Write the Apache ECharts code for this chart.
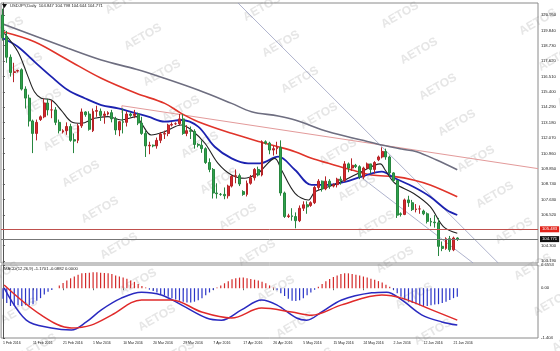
<!DOCTYPE html>
<html><head><meta charset="utf-8">
<script src="https://cdn.jsdelivr.net/npm/echarts@6/dist/echarts.min.js"></script>
<style>html,body{margin:0;padding:0;background:#fff}#c{width:560px;height:351px}</style>
</head><body><div id="c"></div>
<script>
// x-axis tick labels (bar index -> label)
const tickIdx = [0,8,16,24,32,40,48,56,64,72,80,88,96,104,112,120];
const tickLabels = ['1 Feb 2016','11 Feb 2016','21 Feb 2016','1 Mar 2016','10 Mar 2016','20 Mar 2016','29 Mar 2016','7 Apr 2016','17 Apr 2016','26 Apr 2016','5 May 2016','15 May 2016','24 May 2016','2 Jun 2016','12 Jun 2016','21 Jun 2016'];
const priceTicks = [120.95,119.84,118.73,117.62,116.51,115.40,114.29,113.18,112.07,110.96,109.85,108.74,107.63,106.52,104.30,103.19];
const macdTicks = [0.6553, 0, -1.404];
// daily candles [open, close, low, high]
const candles = [
[120.95,119.3,119.1,121.4],[119.4,117.9,117.5,119.8],[117.9,116.8,116.5,118.1],[116.8,116.85,116.1,117.5],[116.9,116.95,116.8,117.0],
[117.0,115.6,115.5,117.1],[115.6,114.95,114.2,115.8],[114.95,113.3,112.9,115.2],[113.3,112.4,110.98,113.4],[112.4,113.2,111.9,113.4],
[113.4,113.6,113.3,113.7],[113.6,114.6,113.5,114.9],[114.6,114.1,113.7,114.9],[114.1,114.1,113.5,114.8],[114.1,113.2,113.0,114.3],
[113.2,112.6,112.4,113.4],[112.5,112.6,112.4,112.7],[112.6,112.9,112.3,113.2],[112.9,111.9,111.8,113.1],[111.95,111.85,110.98,112.4],
[111.9,112.95,111.7,113.1],[112.95,113.95,112.8,114.2],[113.95,113.75,113.6,114.0],[113.8,112.7,112.6,114.0],[112.6,114.0,112.5,114.2],
[114.0,114.05,113.6,114.4],[114.0,113.7,113.3,114.2],[113.7,113.8,113.1,114.0],[113.8,113.9,113.7,114.0],[113.9,113.45,113.2,114.1],
[113.45,112.65,112.3,113.6],[112.65,113.25,112.2,113.3],[113.25,113.2,112.4,114.2],[113.2,113.8,112.9,114.0],[113.8,113.7,113.6,113.9],
[113.7,113.8,113.5,114.1],[113.8,113.15,113.0,113.9],[113.15,112.4,112.3,113.6],[112.4,111.5,110.7,112.6],[111.5,111.55,110.9,111.8],
[111.55,111.5,111.4,111.6],[111.5,111.9,111.3,112.1],[111.9,112.35,111.7,112.5],[112.35,112.4,112.0,112.6],[112.4,113.0,112.2,113.1],
[113.0,113.05,112.9,113.2],[113.1,113.1,113.0,113.2],[113.1,113.45,113.0,113.8],[113.45,112.4,112.3,113.8],[112.4,112.6,112.2,113.0],
[112.6,112.55,112.0,112.9],[112.55,111.6,111.3,112.7],[111.6,111.55,111.4,111.7],[111.55,111.3,111.0,111.9],[111.3,110.3,110.2,111.4],
[110.3,109.8,109.6,110.6],[109.8,108.1,107.7,109.9],[108.1,108.05,107.7,108.8],[108.0,108.0,107.9,108.1],[108.0,107.9,107.65,108.5],
[107.9,108.6,107.7,108.7],[108.6,109.3,108.5,109.4],[109.3,109.35,108.8,109.8],[109.35,108.75,108.6,109.5],[108.2,108.0,107.9,108.3],
[108.0,108.8,107.85,109.0],[108.8,109.2,108.7,109.4],[109.2,109.8,109.0,109.9],[109.8,109.4,109.3,110.0],[109.4,111.8,109.3,111.9],
[111.8,111.7,111.6,111.9],[111.7,111.2,110.9,111.8],[111.2,111.3,110.8,111.5],[111.3,111.4,110.9,111.8],[111.4,108.1,107.9,111.9],
[108.1,106.4,106.3,108.2],[106.4,106.45,106.3,106.6],[106.45,106.4,106.1,107.0],[106.4,106.1,105.55,106.7],[106.1,107.0,106.0,107.2],
[107.0,107.25,106.8,107.5],[107.25,107.1,106.6,107.5],[107.2,107.4,107.1,107.5],[107.4,108.5,107.3,108.6],[108.5,108.95,108.3,109.1],
[108.95,108.4,108.2,109.0],[108.4,108.95,108.3,109.3],[108.95,108.6,108.4,109.1],[108.6,108.7,108.5,108.8],[108.7,109.1,108.5,109.2],
[109.1,109.0,108.7,109.3],[109.0,110.2,108.9,110.4],[110.2,109.9,109.6,110.3],[109.9,110.1,109.7,110.6],[110.1,110.0,109.9,110.2],
[110.0,109.25,109.1,110.1],[109.25,109.9,109.1,110.0],[109.9,110.2,109.8,110.3],[110.2,109.8,109.5,110.2],[109.8,110.3,109.5,110.4],
[110.5,110.7,110.4,110.8],[110.7,111.1,110.6,111.4],[111.1,110.7,110.5,111.3],[110.7,109.55,109.3,110.8],[109.55,109.0,108.9,109.6],
[109.0,106.5,106.3,109.0],[106.6,106.55,106.4,106.7],[106.55,107.6,106.5,107.7],[107.6,107.4,107.1,107.9],[107.4,106.9,106.8,107.6],
[106.9,106.95,106.7,107.3],[106.95,106.95,106.6,107.2],[106.8,106.6,106.5,106.9],[106.6,106.05,105.9,106.7],[106.05,106.0,105.7,106.3],
[106.0,105.95,105.6,106.5],[105.95,104.25,103.55,106.3],[104.25,104.1,103.9,104.6],[104.1,104.8,104.0,104.9],[104.8,104.0,103.85,105.0],
[104.0,104.85,103.9,104.95],[104.85,104.77,104.64,104.9]
];
// moving averages: [bar index, price]
const maBlack = [[0.4,119.63],[4,118.30],[6.7,116.50],[8.4,115.41],[10.2,114.94],[12.9,114.81],[15.5,114.09],[18.2,113.25],[20.9,113.13],[24.4,113.49],[28,113.61],[31.5,113.37],[35.5,113.61],[36.9,113.13],[39.5,112.29],[43.1,112.53],[47.5,113.01],[50.2,112.65],[53.8,111.69],[57.3,110.24],[60.9,109.40],[64.4,109.16],[68,109.52],[68.9,109.76],[72.4,110.60],[74.2,109.76],[77.8,108.08],[81.3,107.59],[83.1,108.19],[86.7,108.55],[91.1,109.04],[95.5,109.64],[100.5,110.2],[101.8,109.76],[104.4,108.80],[109.3,108.08],[113.8,107.11],[117.3,105.67],[121,105.19]];
const maBlue = [[0,119.27],[4,118.66],[8.4,117.58],[12.9,116.50],[17.3,115.53],[21.8,114.94],[26.2,114.45],[30.7,114.21],[35.5,113.85],[38.7,113.61],[43.1,113.25],[47.5,113.37],[52,112.89],[56.4,111.44],[60.9,110.60],[65.3,110.24],[68.4,110.24],[73.3,110.72],[77.8,109.76],[82.2,108.68],[86.7,108.68],[91.1,108.91],[95.5,109.28],[100.9,109.64],[104.4,109.16],[109.3,108.55],[113.8,107.83],[118.2,106.87],[121,106.51]];
const maRed = [[0,119.74],[8.4,119.02],[17.3,117.70],[26.2,116.38],[35.5,115.30],[43.1,114.57],[47.5,113.85],[52,113.25],[60.9,112.41],[68.4,111.80],[73.3,111.44],[77.8,111.08],[82.2,110.60],[86.7,110.24],[92.9,109.76],[98.2,109.40],[104.4,109.28],[109.3,109.04],[113.8,108.68],[121,107.83]];
const maGray = [[0,120.3],[17.3,118.55],[26.2,117.70],[35.5,117.03],[43,116.38],[52,115.53],[60.9,114.57],[66.2,113.97],[73.3,113.66],[77.8,113.37],[86.7,112.52],[95.5,111.92],[100.9,111.56],[106.2,111.27],[110.2,111.08],[115.5,110.48],[121,109.78]];
// drawn objects: trend line, channel lines, horizontal levels
const trendPink = [[31.7,114.40],[142.5,109.86]];
const trendPinkTick = [[31.7,114.40],[31.7,113.87]];
const channelUpper = [[62.6,121.82],[131.9,103.05]];
const channelLower = [[94.6,109.40],[125.2,103.05]];
const levelRed = 105.483;
const levelBid = 104.771;
// MACD panel
const macdHist = [-0.30,-0.42,-0.50,-0.50,-0.48,-0.50,-0.48,-0.48,-0.45,-0.35,-0.28,-0.18,-0.10,-0.05,0.0,
0.08,0.15,0.22,0.28,0.33,0.38,0.42,0.43,0.44,0.45,0.45,0.44,0.43,0.42,0.40,0.36,0.33,0.30,0.27,0.22,0.18,0.12,0.06,0.02,
-0.04,-0.08,-0.12,-0.16,-0.20,-0.24,-0.28,-0.32,-0.35,-0.38,-0.40,-0.40,-0.38,-0.34,-0.28,-0.20,
-0.12,-0.05,0.02,0.08,0.14,0.20,0.25,0.28,0.30,0.30,0.28,0.26,0.24,0.22,0.18,0.14,
0.08,0.02,-0.06,-0.14,-0.22,-0.30,-0.35,-0.36,-0.34,-0.28,-0.20,-0.12,
-0.04,0.04,0.12,0.20,0.26,0.32,0.36,0.40,0.42,0.42,0.40,0.38,0.36,0.33,0.30,0.27,0.24,0.20,0.16,0.10,0.04,
-0.04,-0.14,-0.24,-0.32,-0.38,-0.42,-0.45,-0.48,-0.50,-0.50,-0.48,-0.46,-0.45,-0.42,-0.38,-0.33,-0.28,-0.24];
const macdMain = [[0.3,0.01],[6.2,-0.90],[12.9,-1.12],[18.2,-1.18],[22.2,-0.95],[26.2,-0.61],[31.5,-0.28],[36.9,-0.11],[42.2,-0.19],[47.5,-0.47],[54.2,-0.84],[58.2,-0.90],[63.5,-0.61],[68.9,-0.33],[72.9,-0.47],[78.2,-0.84],[80.9,-0.90],[84.9,-0.67],[90.2,-0.33],[98.2,-0.13],[102.2,-0.11],[106.2,-0.33],[111.5,-0.75],[116.9,-0.95],[121,-1.04]];
const macdSignal = [[0.3,0.09],[10.2,-0.76],[18.2,-1.12],[23.5,-1.04],[28.9,-0.76],[36.9,-0.33],[44.9,-0.33],[52.9,-0.67],[60.9,-0.84],[68.9,-0.56],[76.9,-0.67],[82.2,-0.76],[90.2,-0.47],[100.9,-0.19],[106.2,-0.28],[114.2,-0.61],[121,-0.90]];
const titleText = 'USDJPY,Daily  104.847 104.798 104.644 104.771';
const macdTitle = 'MACD(12,26,9) -1.1701 -0.0882 0.0000';
const watermarkText = 'AETOS';

const N = 143;
const cats = Array.from({length: N}, (_, i) => String(i));
const tickSet = new Set(tickIdx);
const fontFam = '"Liberation Sans", Arial, sans-serif';

// faint diagonal watermark lattice (layout only)
const wm = [];
for (let k = -1; k <= 4; k++) {
  for (let n = -4; n <= 9; n++) {
    const x = 24 + 138 * k + 19 * n, y = 66 + 7 * k + 36 * n;
    if (x > -25 && x < 585 && y > -15 && y < 365) {
      wm.push({type: 'text', x, y, rotation: 30 * Math.PI / 180, z: -5, silent: true,
        style: {text: watermarkText, fontSize: 12, fontWeight: 'bold', fill: '#e6e6e6', align: 'center', verticalAlign: 'middle', fontFamily: fontFam}});
    }
  }
}

const chart = echarts.init(document.getElementById('c'), null, {renderer: 'canvas'});
const lineS = (name, data, color, width, xi, yi, extra) => Object.assign({
  name, type: 'line', data, xAxisIndex: xi, yAxisIndex: yi, symbol: 'none', silent: true,
  smooth: 0.35, lineStyle: {color, width}, z: 3, animation: false
}, extra || {});

chart.setOption({
  animation: false,
  backgroundColor: '#ffffff',
  grid: [
    {left: 1, right: 22, top: 3, height: 260, show: true, borderColor: '#8a8a8a', borderWidth: 1, z: 0},
    {left: 1, right: 22, top: 265, height: 73, show: true, borderColor: '#8a8a8a', borderWidth: 1, z: 0}
  ],
  xAxis: [
    {type: 'category', data: cats, gridIndex: 0, boundaryGap: true, axisLine: {show: false}, axisTick: {show: false}, axisLabel: {show: false}},
    {type: 'category', data: cats, gridIndex: 1, boundaryGap: true, axisLine: {show: false},
      axisTick: {show: true, interval: (i) => tickSet.has(i), length: 2, alignWithLabel: true, lineStyle: {color: '#666'}},
      axisLabel: {show: true, showMinLabel: true, hideOverlap: false, interval: (i) => tickSet.has(i),
        formatter: (v) => tickLabels[tickIdx.indexOf(+v)] || '',
        fontSize: 3.5, color: '#222', align: 'left', margin: 3, fontFamily: fontFam}},
    {type: 'value', gridIndex: 0, min: -0.5, max: N - 0.5, show: false},
    {type: 'value', gridIndex: 1, min: -0.5, max: N - 0.5, show: false}
  ],
  yAxis: [
    {type: 'value', gridIndex: 0, position: 'right', min: 103.046, max: 121.816, splitLine: {show: false},
      axisLine: {show: true, lineStyle: {color: '#555'}},
      axisTick: {show: true, length: 2, customValues: priceTicks, lineStyle: {color: '#555'}},
      axisLabel: {customValues: priceTicks, formatter: (v) => v.toFixed(3), fontSize: 4.2, color: '#222', margin: 3, fontFamily: fontFam}},
    {type: 'value', gridIndex: 1, position: 'right', min: -1.404, max: 0.6553, splitLine: {show: false},
      axisLine: {show: true, lineStyle: {color: '#555'}},
      axisTick: {show: true, length: 2, customValues: macdTicks, lineStyle: {color: '#555'}},
      axisLabel: {customValues: macdTicks, formatter: (v) => (v === 0 ? '0.00' : String(v)), fontSize: 4.2, color: '#222', margin: 3, fontFamily: fontFam}}
  ],
  series: [
    {type: 'candlestick', xAxisIndex: 0, yAxisIndex: 0, data: candles, barWidth: 2.4, silent: true, z: 4,
      itemStyle: {color: '#d42a2e', color0: '#2fa24c', borderColor: '#b52226', borderColor0: '#27863f', borderWidth: 1},
      markLine: {symbol: 'none', silent: true, animation: false,
        data: [
          {yAxis: levelRed, lineStyle: {color: '#c0504d', width: 1, type: 'solid'},
            label: {show: true, position: 'end', distance: 2, formatter: levelRed.toFixed(3), color: '#fff', backgroundColor: '#e2231a', fontSize: 4.2, padding: [1, 2], fontFamily: fontFam}},
          {yAxis: levelBid, lineStyle: {color: '#777', width: 1, type: 'solid'},
            label: {show: true, position: 'end', distance: 2, formatter: levelBid.toFixed(3), color: '#fff', backgroundColor: '#111', fontSize: 4.2, padding: [1, 2], fontFamily: fontFam}}
        ]}},
    lineS('gray', maGray, '#6e6e80', 1.6, 2, 0),
    lineS('red', maRed, '#e0342a', 1.6, 2, 0),
    lineS('blue', maBlue, '#1c22b0', 1.8, 2, 0),
    lineS('black', maBlack, '#222222', 1.1, 2, 0),
    lineS('pink', trendPink, '#e39a9a', 1, 2, 0, {smooth: false, z: 2}),
    lineS('pinktick', trendPinkTick, '#e39a9a', 1, 2, 0, {smooth: false, z: 2}),
    lineS('chanU', channelUpper, '#9aa0c0', 0.8, 2, 0, {smooth: false, z: 2}),
    lineS('chanL', channelLower, '#9aa0c0', 0.8, 2, 0, {smooth: false, z: 2}),
    {type: 'bar', xAxisIndex: 1, yAxisIndex: 1, data: macdHist.map(v => ({value: v, itemStyle: {color: v >= 0 ? '#d42a2a' : '#2a35c8'}})),
      barWidth: 1.2, silent: true, z: 2},
    lineS('macd', macdMain, '#2a2ac0', 1.5, 3, 1),
    lineS('signal', macdSignal, '#e02a2a', 1.5, 3, 1)
  ],
  graphic: wm.concat([
    {type: 'polygon', shape: {points: [[2, 4], [7, 4], [4.5, 8]]}, style: {fill: '#111'}, z: 10},
    {type: 'text', x: 10, y: 4, z: 10, style: {text: titleText, fontSize: 4.2, fill: '#222', fontFamily: fontFam}},
    {type: 'text', x: 4, y: 267, z: 10, style: {text: macdTitle, fontSize: 4.2, fill: '#222', fontFamily: fontFam}}
  ])
});
</script>
</body></html>
